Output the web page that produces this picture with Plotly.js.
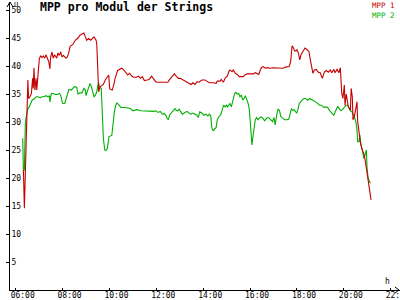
<!DOCTYPE html>
<html>
<head>
<meta charset="utf-8">
<script src="https://cdn.plot.ly/plotly-3.0.1.min.js"></script>
<style>html,body{margin:0;padding:0;background:#fff}#chart{width:400px;height:300px}</style>
</head>
<body>
<div id="chart"></div>
<script>
// Time of day in decimal hours, MPP voltage per module
var redTime = [6.33,6.35,6.37,6.39,6.41,6.44,6.47,6.50,6.52,6.55,6.61,6.67,6.72,6.75,6.78,6.82,6.87,6.90,6.95,6.98,
7.01,7.07,7.12,7.18,7.24,7.29,7.35,7.41,7.46,7.49,7.55,7.60,7.66,7.75,7.80,7.86,7.92,7.98,8.03,8.15,
8.20,8.26,8.32,8.43,8.54,8.66,8.74,8.83,8.91,8.97,9.03,9.11,9.20,9.34,9.43,9.46,9.48,9.51,9.54,9.60,
9.74,9.82,9.91,9.97,10.01,10.12,10.18,10.24,10.35,10.44,10.52,10.61,10.69,10.78,10.86,10.95,11.03,11.15,11.23,11.32,
11.40,11.49,11.60,11.69,11.80,11.89,11.97,12.06,12.16,12.37,12.49,12.57,12.66,12.77,12.85,12.94,13.02,13.11,13.22,13.31,
13.39,13.48,13.56,13.65,13.74,13.82,13.94,14.08,14.15,14.26,14.43,14.55,14.60,14.72,14.77,14.86,14.94,15.03,15.09,15.14,
15.23,15.28,15.37,15.45,15.54,15.63,15.71,15.80,15.88,16.00,16.14,16.22,16.31,16.37,16.42,16.48,16.56,16.65,16.73,16.85,
16.96,17.08,17.19,17.31,17.42,17.50,17.59,17.67,17.73,17.76,17.79,17.84,17.90,17.96,18.00,18.06,18.12,18.17,18.26,18.34,
18.43,18.51,18.57,18.63,18.68,18.74,18.82,18.91,18.99,19.08,19.17,19.25,19.34,19.42,19.48,19.57,19.62,19.71,19.79,19.85,
19.88,19.91,19.96,20.02,20.05,20.10,20.16,20.19,20.28,20.31,20.36,20.39,20.45,20.53,20.56,20.59,20.65,20.70,20.76,20.82,
20.87,20.93,20.99,21.04,21.10,21.16];
var redValue = [21.4,18.7,14.6,17.6,21.1,25.3,31.2,33.6,37.5,34.2,34.5,35.1,37.8,36.0,39.7,35.7,37.8,35.7,37.8,39.6,
41.4,41.8,41.5,41.8,41.4,42.0,41.4,40.8,39.5,41.6,42.5,41.4,42.0,41.4,42.3,41.9,42.5,41.6,41.9,41.4,
41.6,42.3,43.5,43.8,44.6,45.0,45.5,45.7,45.9,45.2,44.6,44.9,44.6,45.2,44.6,43.8,41.4,37.2,35.4,36.3,
36.7,37.5,38.0,38.4,35.9,35.7,36.6,37.8,39.2,39.4,39.6,39.3,38.8,38.4,38.7,38.2,38.0,38.0,38.2,37.8,
38.1,37.4,37.5,37.6,38.2,37.6,37.2,37.1,37.1,37.1,37.1,37.6,38.1,38.6,38.2,37.8,37.8,37.6,37.4,37.1,
36.9,36.7,37.0,36.7,37.2,37.1,37.5,37.5,37.3,37.0,37.0,36.9,37.3,37.3,37.6,37.1,37.9,38.2,39.0,39.3,
39.0,39.3,38.7,38.5,38.1,38.1,38.1,38.5,38.6,38.6,38.6,38.8,38.6,38.5,39.1,39.7,39.9,39.6,39.7,39.6,
39.7,39.7,39.6,39.7,39.6,39.8,39.8,39.9,40.8,42.3,43.6,43.3,42.7,42.7,42.9,42.3,41.1,42.0,42.7,43.2,
42.9,42.6,41.1,39.6,38.7,39.3,39.4,38.9,38.8,37.8,38.9,39.2,38.9,39.3,38.8,39.4,38.8,39.4,38.8,39.7,
37.2,35.1,34.2,36.6,33.0,35.0,33.5,32.7,32.1,36.0,34.5,30.4,31.0,32.7,33.6,30.1,27.7,26.5,25.3,24.7,
24.1,22.6,20.8,19.3,17.9,16.1];

var greenTime = [6.30,6.33,6.37,6.38,6.41,6.44,6.50,6.52,6.58,6.64,6.70,6.78,6.87,6.95,7.04,7.12,7.21,7.29,7.38,7.44,
7.46,7.52,7.60,7.69,7.78,7.86,7.92,7.98,8.01,8.09,8.15,8.20,8.27,8.37,8.43,8.51,8.60,8.66,8.74,8.83,
8.91,8.97,9.00,9.06,9.11,9.17,9.23,9.29,9.34,9.40,9.46,9.51,9.54,9.57,9.65,9.68,9.71,9.74,9.80,9.85,
9.91,9.98,10.10,10.15,10.21,10.27,10.32,10.41,10.49,10.66,10.89,11.00,11.17,11.34,11.66,11.89,11.97,12.08,12.17,12.25,
12.34,12.42,12.45,12.51,12.57,12.66,12.71,12.80,12.85,12.91,12.97,13.05,13.11,13.22,13.31,13.39,13.48,13.56,13.65,13.73,
13.79,13.85,13.94,14.03,14.12,14.20,14.26,14.32,14.37,14.43,14.49,14.55,14.60,14.66,14.75,14.82,14.87,14.93,14.99,15.03,
15.09,15.14,15.20,15.26,15.31,15.34,15.40,15.45,15.51,15.57,15.63,15.69,15.74,15.80,15.86,15.92,15.97,16.00,16.03,16.05,
16.08,16.11,16.14,16.17,16.22,16.28,16.34,16.39,16.48,16.54,16.62,16.71,16.79,16.88,16.96,17.02,17.07,17.14,17.19,17.25,
17.31,17.39,17.48,17.56,17.65,17.70,17.76,17.82,17.87,17.93,17.99,18.04,18.10,18.20,18.29,18.37,18.46,18.54,18.63,18.71,
18.80,18.88,18.97,19.05,19.14,19.22,19.31,19.40,19.48,19.57,19.65,19.74,19.82,19.88,19.96,20.08,20.16,20.28,20.35,20.39,
20.45,20.51,20.56,20.59,20.65,20.68,20.73,20.79,20.85,20.90,20.96,20.99,21.04,21.10,21.14];
var greenValue = [27.1,21.1,21.5,27.7,29.5,30.7,31.8,32.4,32.7,33.3,33.9,34.1,34.5,34.5,34.3,34.5,34.5,34.7,34.5,34.7,
33.6,35.1,35.1,34.9,34.9,35.1,34.8,33.6,33.3,33.3,34.3,35.1,35.8,35.7,35.9,36.3,36.2,35.0,35.2,35.2,
36.0,35.7,34.7,35.5,36.3,36.9,36.3,35.4,34.5,34.8,35.4,36.6,37.0,36.3,36.0,33.0,29.5,27.1,25.0,24.9,
25.3,27.4,27.6,30.1,31.8,33.0,33.4,33.0,32.6,32.6,32.4,32.0,32.2,32.0,31.9,31.9,32.0,31.7,31.9,31.4,
31.5,31.1,30.7,30.4,31.3,31.7,32.0,32.4,32.1,32.0,32.3,31.7,31.4,31.7,31.9,31.6,31.4,31.6,31.4,31.2,
30.8,31.8,31.6,31.2,31.4,31.1,31.4,31.1,28.9,28.4,28.8,29.0,30.4,30.9,31.3,32.1,33.0,32.7,33.0,32.7,
33.0,33.3,32.7,33.6,34.2,35.1,35.3,35.0,35.1,34.5,34.8,33.9,34.2,34.7,34.0,33.3,32.1,30.1,28.3,26.5,
25.9,27.0,28.2,29.5,30.4,30.8,30.4,30.7,30.9,30.7,30.2,30.7,30.8,30.4,30.1,30.8,29.5,31.3,32.3,32.1,
31.0,30.7,30.4,30.4,30.5,31.3,32.4,32.1,32.2,31.9,31.6,32.2,33.3,33.8,34.2,34.2,33.9,34.2,33.9,33.8,
33.6,33.3,33.0,33.0,32.6,32.7,32.6,32.0,31.7,31.2,32.0,32.8,32.3,32.0,32.3,33.0,33.0,32.0,31.8,31.5,
30.9,30.1,28.6,26.5,26.5,27.7,25.9,25.0,23.5,24.1,25.0,21.7,19.9,19.3,19.1];

var seriesNames = ["MPP 1", "MPP 2"];
var tickHours = [6, 8, 10, 12, 14, 16, 18, 20, 22];
var tickLabels = ["06:00", "08:00", "10:00", "12:00", "14:00", "16:00", "18:00", "20:00", "22:00"];
var yTicks = [5, 10, 15, 20, 25, 30, 35, 40, 45, 50];

var RED = "#c40000", GREEN = "#00b000";
var MONO = "DejaVu Sans Mono, Liberation Mono, monospace";

var traces = [
  {x: greenTime, y: greenValue, name: seriesNames[1], type: "scatter", mode: "lines",
   line: {color: GREEN, width: 1.1}, hoverinfo: "skip"},
  {x: redTime, y: redValue, name: seriesNames[0], type: "scatter", mode: "lines",
   line: {color: RED, width: 1.1}, hoverinfo: "skip"}
];

var legendText = '<span style="color:' + RED + '">' + seriesNames[0] + '</span><br>' +
                 '<span style="color:' + GREEN + '">' + seriesNames[1] + '</span>';

var layout = {
  width: 400, height: 300,
  margin: {l: 10, r: 0, t: 2, b: 10, pad: 0},
  paper_bgcolor: "#ffffff", plot_bgcolor: "#ffffff",
  showlegend: false,
  font: {family: MONO, size: 8, color: "#000"},
  title: {text: "MPP pro Modul der Strings", xref: "container", yref: "container",
          x: 0.1, xanchor: "left", y: 0.977, yanchor: "middle",
          font: {family: MONO, size: 11.5, weight: "bold", color: "#000"}},
  xaxis: {range: [5.757, 22.395], showgrid: false, zeroline: false,
          showline: true, linecolor: "#000", linewidth: 1,
          tickmode: "array", tickvals: tickHours, ticktext: tickLabels,
          ticks: "inside", ticklen: 2, tickcolor: "#000", tickwidth: 1,
          ticklabelshift: 7, ticklabelstandoff: -3, ticklabeloverflow: "allow",
          tickfont: {family: MONO, size: 8, color: "#000"}, fixedrange: true},
  yaxis: {range: [0, 51.43], showgrid: false, zeroline: false,
          showline: true, linecolor: "#000", linewidth: 1,
          tickmode: "array", tickvals: yTicks,
          ticks: "outside", ticklen: 3, tickcolor: "#000", tickwidth: 1,
          ticklabelposition: "inside", ticklabeloverflow: "allow",
          tickfont: {family: MONO, size: 8, color: "#000"}, fixedrange: true},
  annotations: [
    {text: "U", xref: "paper", yref: "paper", x: 0.0154, y: 1.0, xanchor: "center", yanchor: "top",
     yshift: 2, borderpad: 0, showarrow: false, font: {family: MONO, size: 7, color: "#000"}},
    {text: "h", xref: "paper", yref: "paper", x: 0.9667, y: 0.0295, xanchor: "center", yanchor: "middle",
     borderpad: 0, showarrow: false, font: {family: MONO, size: 8, color: "#000"}},
    {text: legendText, xref: "paper", yref: "paper", x: 0.99, y: 1.0, xanchor: "right", yanchor: "top",
     yshift: 2, align: "left", borderpad: 0, showarrow: false, font: {family: MONO, size: 7.5}}
  ],
  shapes: [
    {type: "path", xref: "paper", yref: "paper", xsizemode: "pixel", ysizemode: "pixel",
     xanchor: 0, yanchor: 1, path: "M-3,-5L0,0L3,-5", line: {color: "#000", width: 1}},
    {type: "path", xref: "paper", yref: "paper", xsizemode: "pixel", ysizemode: "pixel",
     xanchor: 1, yanchor: 0, path: "M-5,3L-1,0L-5,-3", line: {color: "#000", width: 1}}
  ]
};

Plotly.newPlot("chart", traces, layout, {displayModeBar: false, staticPlot: true});
</script>
</body>
</html>
